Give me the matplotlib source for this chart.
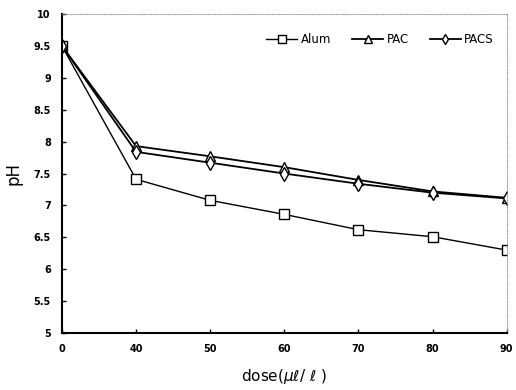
import numpy as np
import matplotlib.pyplot as plt

# dose levels (plotted as equally spaced categories)
doses = [0, 40, 50, 60, 70, 80, 90]
alum = [9.5, 7.41, 7.08, 6.86, 6.62, 6.51, 6.30]
pac = [9.5, 7.93, 7.77, 7.60, 7.40, 7.22, 7.12]
pacs = [9.5, 7.84, 7.67, 7.50, 7.34, 7.20, 7.11]

yticks = [5, 5.5, 6, 6.5, 7, 7.5, 8, 8.5, 9, 9.5, 10]
ytick_labels = ['5', '5.5', '6', '6.5', '7', '7.5', '8', '8.5', '9', '9.5', '10']

fig = plt.figure(figsize=(5.16, 3.9), dpi=100)
ax = fig.add_axes([0.120, 0.146, 0.862, 0.818])

x = np.arange(len(doses))
ax.plot(x, alum, color='black', lw=1.0, marker='s', ms=7, mfc='white', mec='black', mew=1.0, label='Alum')
ax.plot(x, pac, color='black', lw=1.3, marker='^', ms=7, mfc='white', mec='black', mew=1.0, label='PAC')
ax.plot(x, pacs, color='black', lw=1.3, marker='d', ms=7, mfc='white', mec='black', mew=1.0, label='PACS')

ax.set_xlim(0, len(doses) - 1)
ax.set_ylim(5, 10)
ax.set_xticks(x)
ax.set_xticklabels([str(d) for d in doses], fontsize=7, fontweight='bold')
ax.set_yticks(yticks)
ax.set_yticklabels(ytick_labels, fontsize=7, fontweight='bold')
ax.tick_params(direction='in', length=3, width=1, pad=8)

for side in ['top', 'right']:
    ax.spines[side].set_linestyle(':')
    ax.spines[side].set_linewidth(0.6)
    ax.spines[side].set_color('#888888')
for side in ['left', 'bottom']:
    ax.spines[side].set_linewidth(1.5)

ax.set_xlabel('dose($\\mu\\ell$/ $\\ell$ )', fontsize=11, labelpad=9)
ax.set_ylabel('pH', fontsize=12, labelpad=8)

ax.legend(loc='upper right', ncol=3, frameon=False, fontsize=8.5, handlelength=2.6,
          handletextpad=0.3, columnspacing=1.8, markerscale=0.8,
          bbox_to_anchor=(0.995, 0.975))

fig.savefig('out.png', dpi=100)
